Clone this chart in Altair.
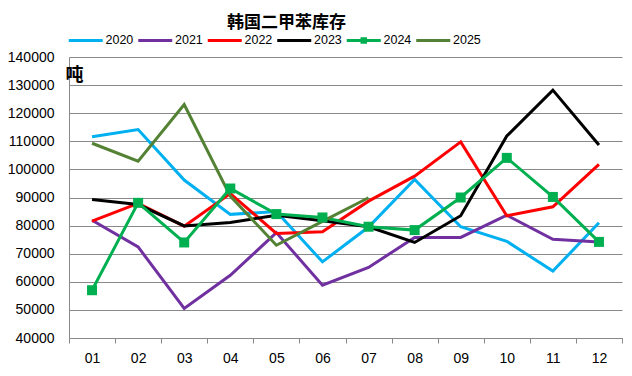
import altair as alt
import pandas as pd

months = ["01", "02", "03", "04", "05", "06", "07", "08", "09", "10", "11", "12"]
years = ["2020", "2021", "2022", "2023", "2024", "2025"]
v2020 = [111600, 114200, 96200, 84000, 85000, 67100, 79500, 96400, 79600, 74400, 63800, 81000]
v2021 = [81900, 72400, 50500, 62300, 77500, 58800, 65100, 75800, 75800, 83700, 75100, 74200]
v2022 = [81600, 87900, 79800, 91400, 77200, 77800, 88700, 97600, 109800, 83500, 86700, 101800]
v2023 = [89300, 87500, 79900, 81100, 83700, 81700, 79600, 74000, 83500, 111900, 128200, 108700]
v2024 = [57000, 88100, 74000, 93200, 84100, 82900, 79600, 78400, 90000, 104100, 90200, 74200]
v2025 = [109300, 102900, 123100, 90500, 73000, 81500, 89900]
colors = ["#00B0F0", "#7030A0", "#FF0000", "#000000", "#00B050", "#548235"]

series = [v2020, v2021, v2022, v2023, v2024, v2025]
rows = []
for yr, vals in zip(years, series):
    for m, v in zip(months, vals):
        rows.append({"month": m, "year": yr, "value": v})
df = pd.DataFrame(rows)

# legend glyphs: a 34px stroke (and a small square for 2024), drawn at symbolSize 100 (5px per unit)
line_path = "M-3.4,-0.3H3.4V0.3H-3.4Z"
sq_path = "M-3.4,-0.3H3.4V0.3H-3.4Z M-0.65,-0.65H0.65V0.65H-0.65Z"
shape_range = [line_path, line_path, line_path, line_path, sq_path, line_path]

FONT = "Liberation Sans"
GRID = "#898989"

legend = alt.Legend(
    title=None, orient="none", legendX=10.5, legendY=-23, direction="horizontal",
    columns=6, symbolSize=100, symbolStrokeWidth=0, labelFont=FONT,
    labelFontSize=12.5, labelColor="#000000", labelOffset=13.5, columnPadding=4.5, padding=0,
)

color = alt.Color("year:N", scale=alt.Scale(domain=years, range=colors), legend=legend)
shape = alt.Shape("year:N", scale=alt.Scale(domain=years, range=shape_range), legend=legend)

x = alt.X("month:O", sort=months,
          scale=alt.Scale(type="band", paddingInner=0, paddingOuter=0),
          bandPosition=0.5,
          axis=alt.Axis(title=None, tickBand="extent", labelAngle=0, labelFont=FONT,
                        labelFontSize=14, labelColor="#000000", labelPadding=8,
                        domainColor=GRID, tickColor=GRID, tickSize=5, grid=False))
y = alt.Y("value:Q", scale=alt.Scale(domain=[40000, 140000], nice=False, zero=False),
          axis=alt.Axis(title="吨", titleAngle=0, titleAlign="left", titleBaseline="top",
                        titleX=-4, titleY=9, titleFont="Noto Sans CJK SC", titleFontSize=18,
                        titleFontWeight="bold", titleColor="#000000",
                        values=list(range(40000, 140001, 10000)), format="d",
                        labelFont=FONT, labelFontSize=14, labelColor="#000000",
                        labelPadding=15, ticks=False, grid=True, gridColor=GRID,
                        domainColor=GRID))

base = alt.Chart(df)
lines = base.mark_line(strokeWidth=3).encode(x=x, y=y, color=color, order=alt.Order("month:O"))
squares = base.transform_filter(alt.datum.year == "2024").mark_square(
    size=100, opacity=1, color="#00B050").encode(x=x, y=y)
legend_layer = base.transform_filter(alt.datum.year == "none").mark_point(
    filled=True, opacity=1).encode(x=x, y=y, color=color, shape=shape)

chart = alt.layer(legend_layer, lines, squares).properties(
    width=553, height=281,
    autosize=alt.AutoSizeParams(type="none"),
    padding={"left": 69, "top": 57, "right": 10, "bottom": 38},
    title=alt.TitleParams("韩国二甲苯库存", font="Noto Sans CJK SC", fontSize=17,
                          fontWeight="bold", color="#000000", anchor="middle",
                          dx=-59, dy=18, offset=3, baseline="bottom"),
).configure_view(stroke=None)

chart.save("out.html", embed_options={"renderer": "svg", "actions": False})
